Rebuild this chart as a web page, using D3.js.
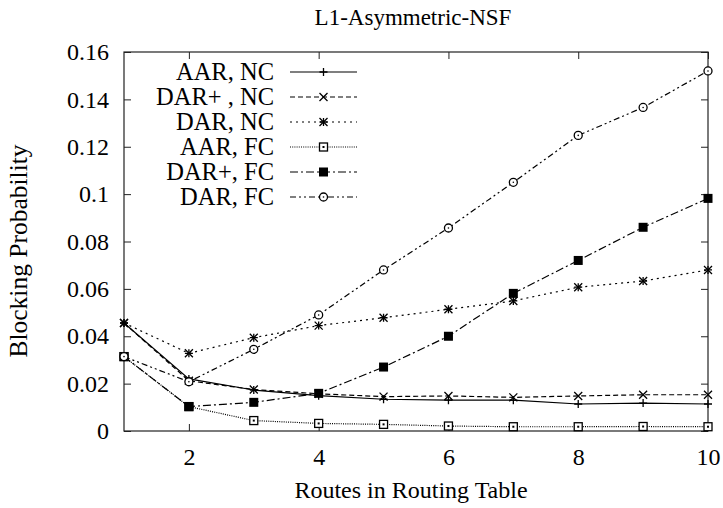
<!DOCTYPE html>
<html>
<head>
<meta charset="utf-8">
<script src="https://cdn.jsdelivr.net/npm/d3@7"></script>
<style>
	body{margin:0;background:#fff;}
</style>
</head>
<body>
<svg id="chart" width="723" height="508"></svg>
<script>
"use strict";

//values
var routes = [1, 2, 3, 4, 5, 6, 7, 8, 9, 10];
var aarNC = [0.0456, 0.0220, 0.0173, 0.0149, 0.0134, 0.0130, 0.0130, 0.0114, 0.0118, 0.0114];
var darPlusNC = [0.0456, 0.0212, 0.0175, 0.0157, 0.0145, 0.0148, 0.0142, 0.0148, 0.0153, 0.0153];
var darNC = [0.0456, 0.0328, 0.0394, 0.0445, 0.0478, 0.0514, 0.0549, 0.0607, 0.0633, 0.0680];
var aarFC = [0.0314, 0.0103, 0.0044, 0.0032, 0.0028, 0.0021, 0.0018, 0.0018, 0.0019, 0.0018];
var darPlusFC = [0.0314, 0.0103, 0.0121, 0.0159, 0.0270, 0.0400, 0.0581, 0.0720, 0.0860, 0.0982];
var darFC = [0.0314, 0.0208, 0.0345, 0.0490, 0.0680, 0.0857, 0.1050, 0.1248, 0.1366, 0.1520];

var seriesNames = ["AAR, NC", "DAR+ , NC", "DAR, NC", "AAR, FC", "DAR+, FC", "DAR, FC"];
var xTicks = [2, 4, 6, 8, 10];
var yTicks = [0, 0.02, 0.04, 0.06, 0.08, 0.1, 0.12, 0.14, 0.16];

var title = "L1-Asymmetric-NSF";
var xLabel = "Routes in Routing Table";
var yLabel = "Blocking Probability";

var serif = "'Liberation Serif', 'Times New Roman', serif";
var svg = d3.select("#chart").attr("font-family", serif);
var plotLeft = 124, plotRight = 708, plotTop = 52, plotBottom = 431;

var x = d3.scaleLinear().domain([1, 10]).range([plotLeft, plotRight]);
var y = d3.scaleLinear().domain([0, 0.16]).range([plotBottom, plotTop]);

//how each series is drawn: dash pattern and marker type
var styles = [
	{dash: null, marker: "plus"},
	{dash: "5,3", marker: "cross"},
	{dash: "2,4", marker: "star"},
	{dash: "1,1.2", marker: "square"},
	{dash: "8,3,2,3", marker: "filled"},
	{dash: "6,3,2,3,2,3", marker: "circle"}
];
var allSeries = [aarNC, darPlusNC, darNC, aarFC, darPlusFC, darFC];

//axes with inward ticks, mirrored on top and right
var tickLen = 7;
svg.append("g")
	.attr("transform", "translate(0," + plotBottom + ")")
	.call(d3.axisBottom(x).tickValues(xTicks).tickSize(-tickLen).tickPadding(tickLen + 10).tickFormat(d3.format("d")))
	.call(function(g){ g.select(".domain").remove(); });
svg.append("g")
	.attr("transform", "translate(0," + plotTop + ")")
	.call(d3.axisTop(x).tickValues(xTicks).tickSize(-tickLen).tickFormat(""))
	.call(function(g){ g.select(".domain").remove(); });
svg.append("g")
	.attr("transform", "translate(" + plotLeft + ",0)")
	.call(d3.axisLeft(y).tickValues(yTicks).tickSize(-tickLen).tickPadding(tickLen + 8).tickFormat(function(d){ return d === 0 ? "0" : String(+d.toFixed(2)); }))
	.call(function(g){ g.select(".domain").remove(); });
svg.append("g")
	.attr("transform", "translate(" + plotRight + ",0)")
	.call(d3.axisRight(y).tickValues(yTicks).tickSize(-tickLen).tickFormat(""))
	.call(function(g){ g.select(".domain").remove(); });

svg.selectAll("g").attr("font-family", serif);
svg.selectAll(".tick line").style("stroke", "#222").style("stroke-width", "1px");
svg.selectAll(".tick text")
	.style("font-family", serif)
	.style("font-size", "24px")
	.style("fill", "#000");

//frame around the plot
svg.append("rect")
	.attr("x", plotLeft)
	.attr("y", plotTop)
	.attr("width", plotRight - plotLeft)
	.attr("height", plotBottom - plotTop)
	.style("fill", "none")
	.style("stroke", "#222")
	.style("stroke-width", "1.2px");

//titles
svg.append("text")
	.attr("x", 413)
	.attr("y", 25)
	.attr("text-anchor", "middle")
	.style("font-family", serif)
	.style("font-size", "23px")
	.text(title);
svg.append("text")
	.attr("x", 411)
	.attr("y", 498)
	.attr("text-anchor", "middle")
	.style("font-family", serif)
	.style("font-size", "24px")
	.text(xLabel);
svg.append("text")
	.attr("transform", "translate(27,251) rotate(-90)")
	.attr("text-anchor", "middle")
	.style("font-family", serif)
	.style("font-size", "25.5px")
	.text(yLabel);

function drawMarker(g, type, cx, cy){
	var s = 4;
	if(type == "plus" || type == "star"){
		g.append("path").attr("d", "M" + (cx - s) + "," + cy + "H" + (cx + s) + "M" + cx + "," + (cy - s) + "V" + (cy + s))
			.style("stroke", "#000").style("stroke-width", "1.3px");
	}
	if(type == "cross" || type == "star"){
		g.append("path").attr("d", "M" + (cx - s) + "," + (cy - s) + "L" + (cx + s) + "," + (cy + s) + "M" + (cx - s) + "," + (cy + s) + "L" + (cx + s) + "," + (cy - s))
			.style("stroke", "#000").style("stroke-width", "1.3px");
	}
	if(type == "square"){
		g.append("rect").attr("x", cx - 4).attr("y", cy - 4).attr("width", 8).attr("height", 8)
			.style("fill", "#fff").style("stroke", "#000").style("stroke-width", "1.3px");
		g.append("rect").attr("x", cx - 1).attr("y", cy - 1).attr("width", 2).attr("height", 2).style("fill", "#000");
	}
	if(type == "filled"){
		g.append("rect").attr("x", cx - 4.5).attr("y", cy - 4.5).attr("width", 9).attr("height", 9).style("fill", "#000");
	}
	if(type == "circle"){
		g.append("circle").attr("cx", cx).attr("cy", cy).attr("r", 4)
			.style("fill", "#fff").style("stroke", "#000").style("stroke-width", "1.3px");
		g.append("circle").attr("cx", cx).attr("cy", cy).attr("r", 0.8).style("fill", "#000");
	}
}

var line = d3.line()
	.x(function(d, i){ return x(routes[i]); })
	.y(function(d){ return y(d); });

//series lines and markers
allSeries.forEach(function(values, k){
	var g = svg.append("g");
	g.append("path")
		.datum(values)
		.attr("d", line)
		.style("fill", "none")
		.style("stroke", "#000")
		.style("stroke-width", "1.2px")
		.style("stroke-dasharray", styles[k].dash);
	values.forEach(function(v, i){
		drawMarker(g, styles[k].marker, x(routes[i]), y(v));
	});
});

//legend in the upper left
var legendTextX = 274, legendLineX1 = 290, legendLineX2 = 357, legendTop = 72, legendStep = 25;
seriesNames.forEach(function(name, k){
	var cy = legendTop + k*legendStep;
	var g = svg.append("g");
	g.append("text")
		.attr("x", legendTextX)
		.attr("y", cy + 8)
		.attr("text-anchor", "end")
		.style("font-family", serif)
		.style("font-size", "24.5px")
		.style("fill", "#000")
		.text(name);
	g.append("line")
		.attr("x1", legendLineX1)
		.attr("x2", legendLineX2)
		.attr("y1", cy)
		.attr("y2", cy)
		.style("stroke", "#000")
		.style("stroke-width", "1.2px")
		.style("stroke-dasharray", styles[k].dash);
	drawMarker(g, styles[k].marker, (legendLineX1 + legendLineX2)/2, cy);
});
</script>
</body>
</html>
